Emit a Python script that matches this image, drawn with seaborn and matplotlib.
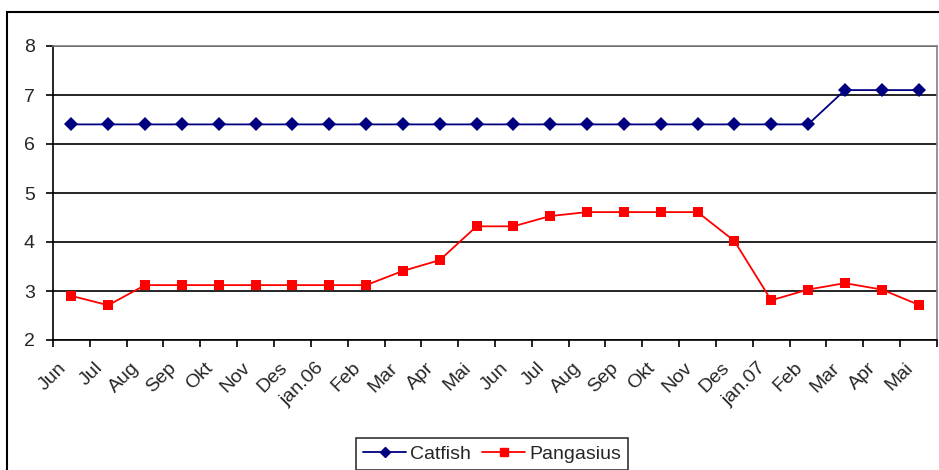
import numpy as np
import pandas as pd
import seaborn as sns
import matplotlib.pyplot as plt
from matplotlib.patches import Rectangle

months = ['Jun', 'Jul', 'Aug', 'Sep', 'Okt', 'Nov', 'Des', 'jan.06', 'Feb', 'Mar', 'Apr', 'Mai',
          'Jun', 'Jul', 'Aug', 'Sep', 'Okt', 'Nov', 'Des', 'jan.07', 'Feb', 'Mar', 'Apr', 'Mai']
catfish = [6.4, 6.4, 6.4, 6.4, 6.4, 6.4, 6.4, 6.4, 6.4, 6.4, 6.4, 6.4,
           6.4, 6.4, 6.4, 6.4, 6.4, 6.4, 6.4, 6.4, 6.4, 7.1, 7.1, 7.1]
pangasius = [2.9, 2.71, 3.12, 3.12, 3.12, 3.12, 3.12, 3.12, 3.12, 3.41, 3.63, 4.32,
             4.32, 4.53, 4.61, 4.61, 4.61, 4.61, 4.02, 2.81, 3.03, 3.16, 3.03, 2.72]

#long format for seaborn
pos = np.arange(len(months))
df = pd.DataFrame({'pos': np.concatenate([pos, pos]),
                   'value': catfish + pangasius,
                   'series': ['Catfish'] * len(months) + ['Pangasius'] * len(months)})

sns.set_theme(style='white')
plt.rcParams['font.family'] = ['Liberation Sans', 'DejaVu Sans']

fig = plt.figure(figsize=(9.39, 4.7), dpi=100)
ax = fig.add_axes([53 / 939, 130 / 470, 884 / 939, 294 / 470])

sns.lineplot(data=df, x='pos', y='value', hue='series', style='series',
             palette={'Catfish': '#000080', 'Pangasius': '#FF0000'},
             markers={'Catfish': 'D', 'Pangasius': 's'}, dashes=False,
             markersize=7, markeredgewidth=0, linewidth=1.3, ax=ax, legend=False)

ax.set_xlim(-0.5, len(months) - 0.5)
ax.set_ylim(2, 8)
ax.set_yticks(range(2, 9))
ax.set_xticks(np.arange(-0.5, len(months)))
ax.set_xticklabels([])
#labels sit a bit left of the category centre, like Excel's rotated labels
ax.set_xticks(pos - 0.38, minor=True)
ax.set_xticklabels(months, minor=True, rotation=45, ha='right', va='top',
                   rotation_mode='anchor', fontsize=14)
ax.tick_params(axis='x', which='minor', bottom=False, length=0, pad=14)
ax.tick_params(axis='x', which='major', bottom=True, direction='out', length=5, width=1.2, color='black')
ax.tick_params(axis='y', left=True, direction='out', length=5, width=1.2, color='black',
               labelsize=14, pad=8)
ax.yaxis.grid(True, color='black', linewidth=1.2)
ax.set_xlabel('')
ax.set_ylabel('')

for side in ['top', 'right']:
    ax.spines[side].set_color('#808080')
    ax.spines[side].set_linewidth(1.2)
for side in ['left', 'bottom']:
    ax.spines[side].set_color('black')
    ax.spines[side].set_linewidth(1.2)

#outer chart frame
fig.patches.append(Rectangle((7 / 939, -0.1), 1.1, (470 - 12) / 470 + 0.1,
                             transform=fig.transFigure, fill=False,
                             edgecolor='black', linewidth=1.5))

handles = [plt.Line2D([], [], color='#000080', marker='D', markersize=5.5, linewidth=1.3),
           plt.Line2D([], [], color='#FF0000', marker='s', markersize=6, linewidth=1.3)]
leg = fig.legend(handles, ['Catfish', 'Pangasius'], loc='center',
                 bbox_to_anchor=(492 / 939, 1 - 454 / 470), ncol=2, fontsize=14,
                 frameon=True, fancybox=False, edgecolor='black', borderpad=0.35,
                 handlelength=2.2, handletextpad=0.2, columnspacing=0.6,
                 borderaxespad=0)
leg.get_frame().set_linewidth(1.2)

plt.savefig('out.png', dpi=100)
